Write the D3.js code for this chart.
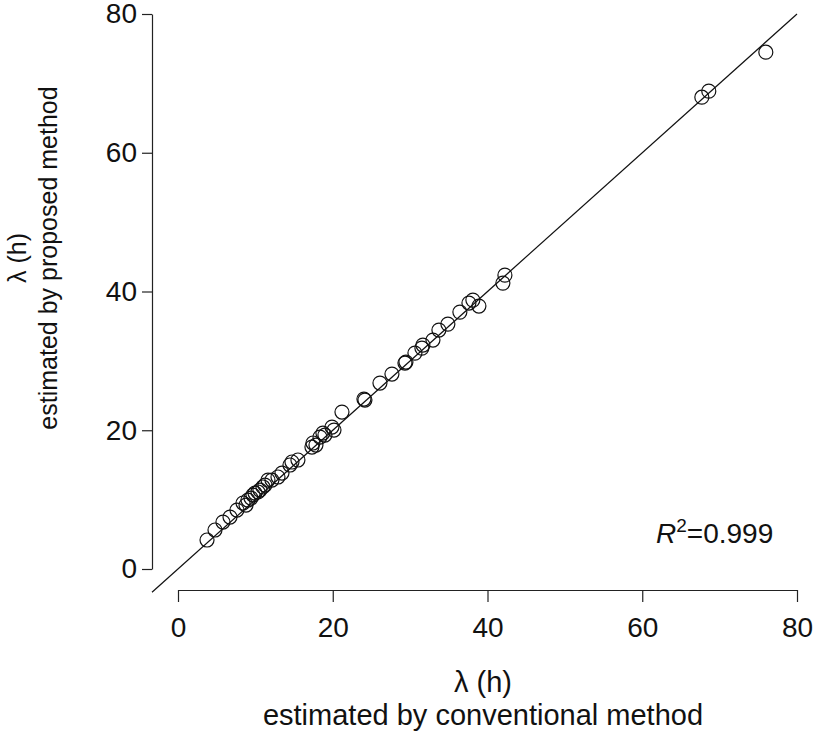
<!DOCTYPE html>
<html>
<head>
<meta charset="utf-8">
<script src="https://cdn.jsdelivr.net/npm/d3@7"></script>
<style>
  body { margin: 0; background: #fff; }
  text { font-family: "Liberation Sans", Arial, sans-serif; fill: #111; }
</style>
</head>
<body>
<div id="main_frame"></div>
<script>
// lambda (h): conventional method (x) vs proposed method (y)
var conventional = [3.75, 4.78, 5.81, 6.72, 7.62, 8.40, 8.79, 9.04, 9.43, 9.69,
                    9.95, 10.34, 10.59, 10.98, 11.24, 11.63, 12.14, 12.92, 13.44, 14.47,
                    14.73, 15.50, 17.31, 17.44, 17.83, 18.35, 18.73, 18.99, 19.90, 20.16,
                    21.19, 24.16, 24.03, 26.10, 27.65, 29.33, 29.46, 30.62, 31.52, 31.65,
                    32.95, 33.72, 34.88, 36.43, 37.60, 38.11, 38.89, 41.99, 42.25, 67.70,
                    68.60, 75.97];
var proposed = [4.18, 5.62, 6.77, 7.49, 8.50, 9.51, 9.22, 9.94, 10.23, 10.66,
                10.95, 11.10, 11.38, 11.82, 12.10, 12.82, 12.82, 13.26, 13.83, 14.99,
                15.42, 15.71, 17.58, 18.16, 17.87, 19.02, 19.60, 19.31, 20.46, 20.03,
                22.62, 24.35, 24.50, 26.80, 28.10, 29.68, 29.83, 31.12, 31.84, 32.28,
                33.00, 34.44, 35.30, 37.03, 38.33, 38.76, 37.90, 41.21, 42.36, 68.01,
                68.88, 74.50];
var tickValues = [0, 20, 40, 60, 80];
var fitLine = [-3.36, 80];   // y = x reference line, ends in data units
var r2Label = "0.999";

var width = 820;
var height = 732;

var svg = d3.select("#main_frame")
            .append("svg")
            .attr("width", width)
            .attr("height", height);

// scales (x is a little wider than y in the original)
var x = d3.scaleLinear().domain([0, 80]).range([178, 797]);
var y = d3.scaleLinear().domain([0, 80]).range([569, 14]);

// y axis, pulled left of the plot
var yAxis = svg.append("g")
    .attr("transform", "translate(152,0)")
    .call(d3.axisLeft(y).tickValues(tickValues).tickSize(10).tickSizeOuter(0).tickPadding(5));

// x axis, pulled below the plot
var xAxis = svg.append("g")
    .attr("transform", "translate(0,590)")
    .call(d3.axisBottom(x).tickValues(tickValues).tickSize(12).tickSizeOuter(0).tickPadding(15));

[yAxis, xAxis].forEach(function (g) {
    g.attr("font-family", null).attr("font-size", null);
    g.selectAll("path, line").attr("stroke", "#222").attr("stroke-width", 1.2);
    g.selectAll("text").style("font-size", "28px").attr("fill", "#111");
});

// reference line
svg.append("line")
    .attr("x1", x(fitLine[0]))
    .attr("y1", y(fitLine[0]))
    .attr("x2", x(fitLine[1]))
    .attr("y2", y(fitLine[1]))
    .attr("stroke", "#111")
    .attr("stroke-width", 1.2);

// open circles
svg.selectAll("circle.pt")
    .data(conventional)
    .enter()
    .append("circle")
    .attr("class", "pt")
    .attr("cx", function (d) { return x(d); })
    .attr("cy", function (d, i) { return y(proposed[i]); })
    .attr("r", 7)
    .attr("fill", "none")
    .attr("stroke", "#111")
    .attr("stroke-width", 1.2);

// axis titles
svg.append("text")
    .attr("x", 483)
    .attr("y", 692)
    .attr("text-anchor", "middle")
    .style("font-size", "29px")
    .text("λ (h)");
svg.append("text")
    .attr("x", 483)
    .attr("y", 725)
    .attr("text-anchor", "middle")
    .style("font-size", "29px")
    .text("estimated by conventional method");

svg.append("text")
    .attr("transform", "translate(26,258) rotate(-90)")
    .attr("text-anchor", "middle")
    .style("font-size", "25px")
    .text("λ (h)");
svg.append("text")
    .attr("transform", "translate(57,258) rotate(-90)")
    .attr("text-anchor", "middle")
    .style("font-size", "25px")
    .text("estimated by proposed method");

// R^2 label
var r2 = svg.append("text")
    .attr("x", 656)
    .attr("y", 543)
    .style("font-size", "28px");
r2.append("tspan").style("font-style", "italic").text("R");
r2.append("tspan").attr("dy", -11).style("font-size", "19px").text("2");
r2.append("tspan").attr("dy", 11).text("=" + r2Label);
</script>
</body>
</html>
